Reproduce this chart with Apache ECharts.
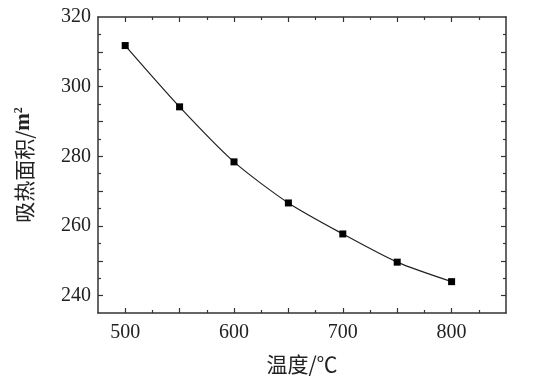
<!DOCTYPE html>
<html>
<head>
<meta charset="utf-8">
<script src="https://cdn.jsdelivr.net/npm/echarts@6/dist/echarts.min.js"></script>
<style>
html,body{margin:0;padding:0;background:#fff;}
#c{width:538px;height:391px;}
</style>
</head>
<body>
<div id="c"></div>
<script>
// Data
var temperatures = [500, 550, 600, 650, 700, 750, 800];
var absorbArea = [311.8, 294.2, 278.4, 266.6, 257.7, 249.6, 244.0];
var xLabelValues = [500, 600, 700, 800];
var xMajorTicks = [500, 550, 600, 650, 700, 750, 800];
var xMinorTicks = [525, 575, 625, 675, 725, 775, 825];
var yLabelValues = [240, 260, 280, 300, 320];
var yMajorTicks = [240, 250, 260, 270, 280, 290, 300, 310];
var yMinorTicks = [245, 255, 265, 275, 285, 295, 305, 315];

var X_MIN = 475, X_MAX = 850, Y_MIN = 235, Y_MAX = 320;
var AX = '#333';
var serif = '"Liberation Serif", "Times New Roman", serif';
var cjk = '"Noto Sans CJK SC", "Liberation Serif", serif';

function xAx(pos, ticks, len, labels, withLine, extra) {
  var a = {
    type: 'value', position: pos, min: X_MIN, max: X_MAX,
    axisLine: { show: withLine, onZero: false, lineStyle: { color: AX, width: 1.5 } },
    axisTick: { show: true, inside: true, length: len, customValues: ticks, lineStyle: { color: AX, width: 1.2 } },
    axisLabel: labels ? { show: true, customValues: labels, color: '#222', fontFamily: serif, fontSize: 20, margin: 10 } : { show: false },
    splitLine: { show: false }
  };
  if (extra) for (var k in extra) a[k] = extra[k];
  return a;
}
function yAx(pos, ticks, len, labels, withLine, extra) {
  var a = {
    type: 'value', position: pos, min: Y_MIN, max: Y_MAX,
    axisLine: { show: withLine, onZero: false, lineStyle: { color: AX, width: 1.5 } },
    axisTick: { show: true, inside: true, length: len, customValues: ticks, lineStyle: { color: AX, width: 1.2 } },
    axisLabel: labels ? { show: true, customValues: labels, color: '#222', fontFamily: serif, fontSize: 20, margin: 7 } : { show: false },
    splitLine: { show: false }
  };
  if (extra) for (var k in extra) a[k] = extra[k];
  return a;
}

var chart = echarts.init(document.getElementById('c'), null, { renderer: 'canvas' });
chart.setOption({
  animation: false,
  backgroundColor: '#fff',
  grid: { left: 98, top: 17, right: 32, bottom: 78, containLabel: false },
  xAxis: [
    xAx('bottom', xMajorTicks, 5, xLabelValues, true, {
      name: '温度/℃', nameLocation: 'middle', nameGap: 41,
      nameTextStyle: { fontFamily: cjk, fontSize: 21, color: '#222' }
    }),
    xAx('bottom', xMinorTicks, 3, null, false),
    xAx('top', xMajorTicks, 5, null, true),
    xAx('top', xMinorTicks, 3, null, false)
  ],
  yAxis: [
    yAx('left', yMajorTicks, 5, yLabelValues, true, {
      name: '吸热面积/{b|m}{s|2}', nameLocation: 'middle', nameGap: 63,
      nameTextStyle: {
        fontFamily: cjk, fontSize: 21, color: '#222',
        rich: {
          b: { fontFamily: serif, fontWeight: 'bold', fontSize: 21, color: '#222' },
          s: { fontFamily: serif, fontWeight: 'bold', fontSize: 12, color: '#222', padding: [0, 0, 10, 0] }
        }
      }
    }),
    yAx('left', yMinorTicks, 3, null, false),
    yAx('right', yMajorTicks, 5, null, true),
    yAx('right', yMinorTicks, 3, null, false)
  ],
  series: [{
    type: 'line',
    xAxisIndex: 0, yAxisIndex: 0,
    data: temperatures.map(function (t, i) { return [t, absorbArea[i]]; }),
    smooth: 0.25,
    symbol: 'rect', symbolSize: 7,
    lineStyle: { color: '#222', width: 1.2 },
    itemStyle: { color: '#000' }
  }]
});
</script>
</body>
</html>
